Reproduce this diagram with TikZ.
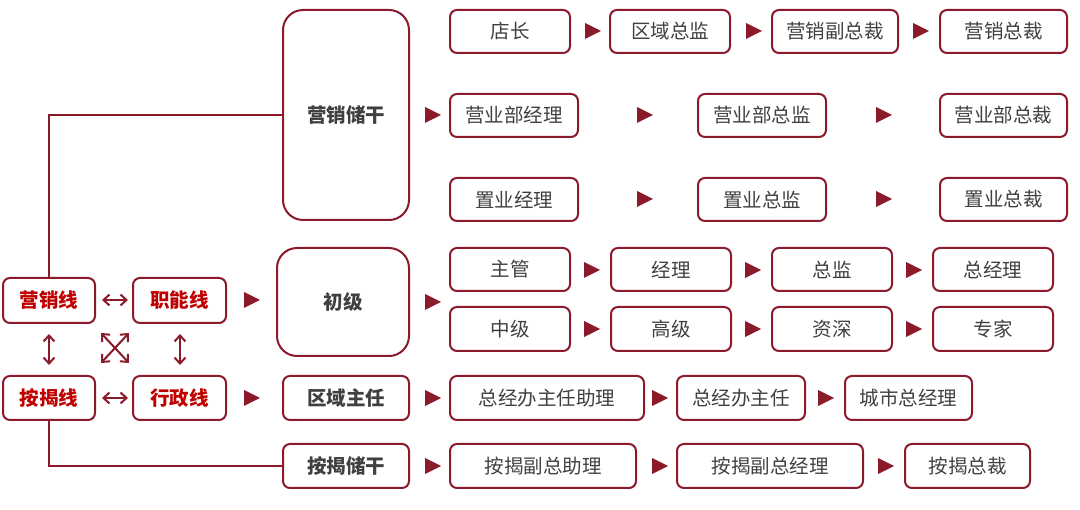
\documentclass[tikz,border=0pt]{standalone}
\usepackage{fontspec}
\setmainfont{Noto Sans CJK SC}
\usetikzlibrary{arrows.meta}
\definecolor{bd}{HTML}{8B1A2B}
\definecolor{rt}{HTML}{C00000}
\definecolor{gt}{HTML}{404040}
\begin{document}
\begin{tikzpicture}[x=1pt,y=-1pt,
  bx/.style={draw=bd,line width=2pt,rounded corners=7pt,text=gt,font=\fontsize{19.5}{19.5}\selectfont,inner sep=0pt,anchor=center},
  lb/.style={bx,text=rt,font=\fontsize{19.5}{19.5}\selectfont\bfseries},
  mb/.style={bx,font=\fontsize{19.5}{19.5}\selectfont\bfseries},
  big/.style={mb,rounded corners=20pt},
  ln/.style={draw=bd,line width=2pt},
  da/.style={draw=bd,line width=2pt,{Straight Barb[length=6pt,width=11pt]}-{Straight Barb[length=6pt,width=11pt]}}]
\useasboundingbox (0,0) rectangle (1080,510);
\newcommand\bxn[7]{\node[#1,minimum width=#4-#3,minimum height=#6-#5] (#2) at ({(#3+#4)/2},{(#5+#6)/2}) {#7};}
\newcommand\tri[2]{\fill[bd] (#1-8,#2-8) -- (#1+8,#2) -- (#1-8,#2+8) -- cycle;}
% left
\bxn{lb}{yx}{3}{95}{278}{323}{营销线}
\bxn{lb}{zn}{133}{226}{278}{323}{职能线}
\bxn{lb}{aj}{3}{95}{376}{420}{按揭线}
\bxn{lb}{xz}{133}{226}{376}{420}{行政线}
\bxn{big}{yxcg}{283}{409}{10}{220}{营销储干}
\bxn{big}{cj}{277}{409}{248}{356}{初级}
\bxn{mb}{qyzr}{283}{409}{376}{420}{区域主任}
\bxn{mb}{ajcg}{283}{409}{444}{488}{按揭储干}
% rows
\bxn{bx}{a1}{450}{570}{10}{53}{店长}
\bxn{bx}{a2}{610}{730}{10}{53}{区域总监}
\bxn{bx}{a3}{772}{898}{10}{53}{营销副总裁}
\bxn{bx}{a4}{940}{1067}{10}{53}{营销总裁}
\bxn{bx}{b1}{450}{578}{94}{137}{营业部经理}
\bxn{bx}{b2}{698}{826}{94}{137}{营业部总监}
\bxn{bx}{b3}{940}{1067}{94}{137}{营业部总裁}
\bxn{bx}{c1}{450}{578}{178}{221}{置业经理}
\bxn{bx}{c2}{698}{826}{178}{221}{置业总监}
\bxn{bx}{c3}{940}{1067}{178}{221}{置业总裁}
\bxn{bx}{d1}{450}{570}{248}{291}{主管}
\bxn{bx}{d2}{611}{731}{248}{291}{经理}
\bxn{bx}{d3}{772}{892}{248}{291}{总监}
\bxn{bx}{d4}{933}{1053}{248}{291}{总经理}
\bxn{bx}{e1}{450}{570}{307}{351}{中级}
\bxn{bx}{e2}{611}{731}{307}{351}{高级}
\bxn{bx}{e3}{772}{892}{307}{351}{资深}
\bxn{bx}{e4}{933}{1053}{307}{351}{专家}
\bxn{bx}{f1}{450}{644}{376}{420}{总经办主任助理}
\bxn{bx}{f2}{677}{805}{376}{420}{总经办主任}
\bxn{bx}{f3}{845}{972}{376}{420}{城市总经理}
\bxn{bx}{g1}{450}{636}{444}{488}{按揭副总助理}
\bxn{bx}{g2}{677}{863}{444}{488}{按揭副总经理}
\bxn{bx}{g3}{905}{1030}{444}{488}{按揭总裁}
% triangles
\tri{593}{31}\tri{754}{31}\tri{921}{31}
\tri{433}{115}\tri{645}{115}\tri{884}{115}
\tri{645}{199}\tri{884}{199}
\tri{433}{302}
\tri{592}{270}\tri{753}{270}\tri{914}{270}
\tri{592}{329}\tri{753}{329}\tri{914}{329}
\tri{433}{398}\tri{660}{398}\tri{826}{398}
\tri{433}{466}\tri{660}{466}\tri{886}{466}
\tri{252}{300}\tri{252}{398}
% lines
\draw[ln] (yx.north) -- (yx.north |- yxcg.west) -- (yxcg.west);
\draw[ln] (aj.south) -- (aj.south |- ajcg.west) -- (ajcg.west);
% double arrows
\coordinate (h1a) at (102,300); \coordinate (h1b) at (128,300);
\coordinate (h2a) at (102,398); \coordinate (h2b) at (128,398);
\coordinate (v1a) at (49,334); \coordinate (v1b) at (49,365);
\coordinate (v2a) at (180,334); \coordinate (v2b) at (180,365);
\coordinate (x1) at (101,333); \coordinate (x2) at (129,363);
\coordinate (x3) at (129,333); \coordinate (x4) at (101,363);
\draw[da] (h1a) -- (h1b);
\draw[da] (h2a) -- (h2b);
\draw[da] (v1a) -- (v1b);
\draw[da] (v2a) -- (v2b);
\draw[da] (x1) -- (x2);
\draw[da] (x3) -- (x4);
\end{tikzpicture}
\end{document}
